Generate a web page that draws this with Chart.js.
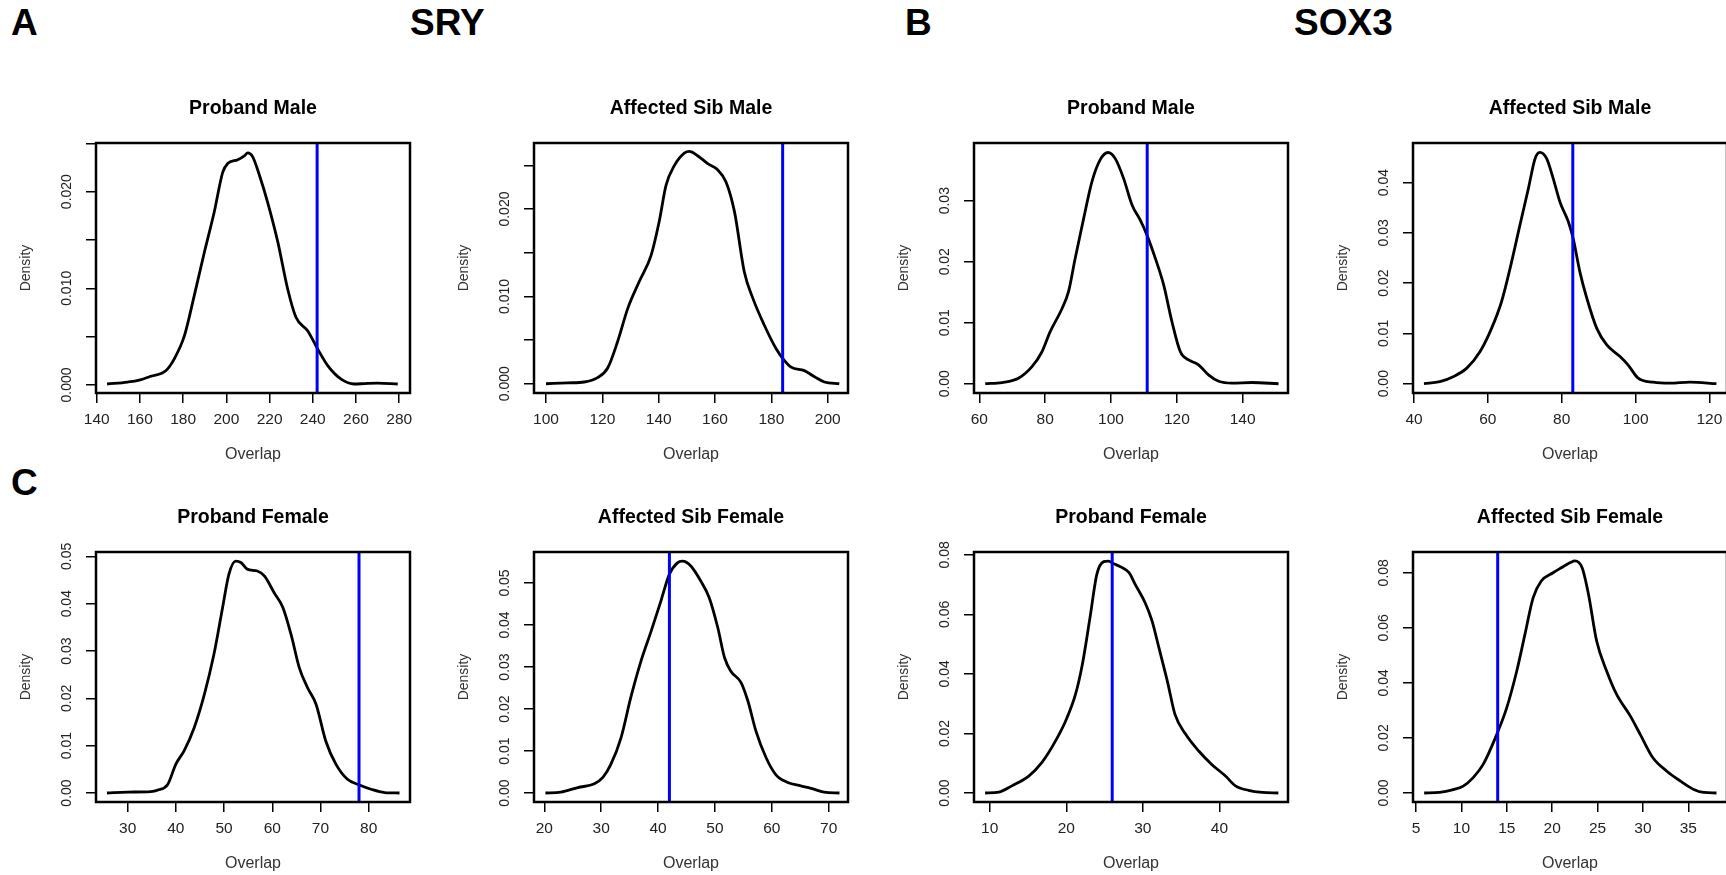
<!DOCTYPE html>
<html><head><meta charset="utf-8">
<script src="https://cdn.jsdelivr.net/npm/chart.js@4/dist/chart.umd.min.js"></script>
<style>
html,body{margin:0;padding:0;background:#fff;width:1726px;height:875px;overflow:hidden;position:relative}
canvas{position:absolute}
.lab{position:absolute;font:bold 37px 'Liberation Sans',Arial,sans-serif;line-height:37px;color:#000;white-space:nowrap}
</style></head><body>
<div class="lab" style="left:11px;top:4px">A</div>
<div class="lab" style="left:410px;top:4px">SRY</div>
<div class="lab" style="left:905px;top:4px">B</div>
<div class="lab" style="left:1294px;top:4px">SOX3</div>
<div class="lab" style="left:11px;top:464px">C</div>
<script>
// ---- data ----
const sryProbandMaleX = [144.8,154.3,159.7,165.1,172.1,175.9,180.6,185.2,189.8,194.5,198.3,200.6,205.3,208.3,209.9,212.2,215.3,219.1,223.8,228.4,232.2,237.6,242.3,246.9,253.1,259.2,263.9,270.0,279.3];
const sryProbandMaleY = [0.0001,0.0003,0.0005,0.0009,0.0015,0.0027,0.0051,0.0093,0.0137,0.0180,0.0220,0.0229,0.0233,0.0237,0.0240,0.0236,0.0217,0.0189,0.0148,0.0099,0.0070,0.0056,0.0037,0.0020,0.0006,0.0001,0.00015,0.0002,0.0001];
const sryProbandMaleObs = 242;

const srySibMaleX = [100.0,107.7,113.6,118.3,121.9,125.4,129.0,133.1,137.3,140.2,142.6,145.6,149.1,150.9,153.8,157.4,160.9,163.9,166.9,170.4,173.4,177.5,181.7,184.0,187.0,191.7,195.3,198.8,204.1];
const srySibMaleY = [0,0.0001,0.0002,0.0007,0.0018,0.0048,0.0086,0.0117,0.0147,0.0186,0.0227,0.0250,0.0264,0.0266,0.0261,0.0252,0.0245,0.0231,0.0197,0.0128,0.0098,0.0067,0.0040,0.0029,0.0019,0.0015,0.0008,0.0002,0];
const srySibMaleObs = 184;

const sox3ProbandMaleX = [61.8,66.9,71.9,76.0,79.0,81.5,85.1,87.1,89.1,91.7,94.2,96.7,99.1,101.3,103.8,106.4,108.9,110.9,113.5,116.0,118.5,121.1,123.6,126.6,129.7,132.7,136.8,142.8,150.9];
const sox3ProbandMaleY = [0,0.0002,0.0009,0.0028,0.0052,0.0085,0.0123,0.0151,0.0205,0.0271,0.0331,0.0367,0.0379,0.0369,0.0337,0.0293,0.0268,0.0244,0.0205,0.0162,0.0102,0.0052,0.0039,0.0031,0.0014,0.0004,0.0001,0.0002,0];
const sox3ProbandMaleObs = 111;

const sox3SibMaleX = [42.7,47.0,50.6,54.3,57.9,61.0,63.7,66.0,68.7,71.0,72.8,74.1,75.9,77.7,79.5,81.8,83.1,84.9,86.8,89.5,92.2,95.8,98.0,100.7,104.8,109.3,114.7,121.9];
const sox3SibMaleY = [0,0.0004,0.0014,0.0031,0.0064,0.0110,0.0163,0.0229,0.0316,0.0389,0.0448,0.0460,0.0448,0.0408,0.0362,0.0322,0.0289,0.0223,0.0170,0.0110,0.0077,0.0054,0.0037,0.0011,0.0003,0.0001,0.0003,0];
const sox3SibMaleObs = 83;

const sryProbandFemaleX = [25.7,30.0,34.8,36.2,38.3,40.0,41.7,43.8,45.9,47.9,49.7,51.0,52.4,53.5,54.8,56.9,58.4,60.4,62.2,63.9,65.6,67.3,69.1,71.1,73.2,75.6,78.1,80.5,83.3,86.4];
const sryProbandFemaleY = [0,0.0002,0.0003,0.0006,0.0018,0.0061,0.0089,0.0138,0.0208,0.0293,0.0392,0.0462,0.0490,0.0487,0.0473,0.0469,0.0458,0.0423,0.0392,0.0335,0.0265,0.0223,0.0187,0.0110,0.0061,0.0029,0.0017,0.0008,0.0001,0];
const sryProbandFemaleObs = 78;

const srySibFemaleX = [20.2,22.9,25.9,28.8,30.3,31.7,33.5,35.2,37.0,38.8,40.5,42.0,43.4,44.3,45.8,47.5,49.0,50.5,51.7,52.8,54.6,55.8,57.2,59.0,60.7,62.8,65.1,66.9,69.2,71.9];
const srySibFemaleY = [0,0.0002,0.0013,0.0022,0.0037,0.0068,0.0132,0.0227,0.0314,0.0386,0.0457,0.0521,0.0548,0.0552,0.0540,0.0505,0.0465,0.0394,0.0322,0.0290,0.0263,0.0219,0.0148,0.0084,0.0044,0.0025,0.0017,0.0011,0.0002,0];
const srySibFemaleObs = 42;

const sox3ProbandFemaleX = [9.4,11.2,12.9,15.1,16.8,18.6,20.1,21.2,22.1,23.1,24.0,24.9,25.5,26.2,27.3,28.2,29.0,30.3,31.2,32.1,33.2,34.2,35.6,37.3,39.0,40.8,42.1,43.8,45.6,47.7];
const sox3ProbandFemaleY = [0,0.0003,0.0024,0.0057,0.0102,0.0175,0.0253,0.0331,0.0432,0.0589,0.0735,0.0777,0.0779,0.0770,0.0757,0.0740,0.0701,0.0639,0.0578,0.0488,0.0376,0.0264,0.0197,0.0141,0.0096,0.0057,0.0024,0.0009,0.0002,0];
const sox3ProbandFemaleObs = 26;

const sox3SibFemaleX = [5.9,7.6,9.1,10.2,11.3,12.4,13.9,15.0,16.1,17.0,17.9,18.8,20.1,21.0,22.0,22.5,23.3,24.0,24.9,26.0,27.1,28.6,29.7,31.1,32.6,34.1,35.6,36.7,38.1];
const sox3SibFemaleY = [0,0.0002,0.0012,0.0025,0.0056,0.0104,0.0213,0.0310,0.0443,0.0576,0.0709,0.0770,0.0800,0.0818,0.0837,0.0843,0.0818,0.0722,0.0552,0.0443,0.0358,0.0280,0.0213,0.0128,0.0080,0.0044,0.0013,0.0002,0];
const sox3SibFemaleObs = 14;

// tick values and labels
const xTicksA1 = [140,160,180,200,220,240,260,280];
const xTicksA2 = [100,120,140,160,180,200];
const xTicksB1 = [60,80,100,120,140];
const xTicksB2 = [40,60,80,100,120];
const xTicksC1 = [30,40,50,60,70,80];
const xTicksC2 = [20,30,40,50,60,70];
const xTicksD1 = [10,20,30,40];
const xTicksD2 = [5,10,15,20,25,30,35];
const yTicksSryMale = [0,0.005,0.010,0.015,0.020,0.025];
const yLabelsSryMale = ['0.000','','0.010','','0.020',''];
const yTicksSox3ProbandMale = [0,0.01,0.02,0.03];
const yLabelsSox3ProbandMale = ['0.00','0.01','0.02','0.03'];
const yTicksSox3SibMale = [0,0.01,0.02,0.03,0.04];
const yLabelsSox3SibMale = ['0.00','0.01','0.02','0.03','0.04'];
const yTicksSryFemale = [0,0.01,0.02,0.03,0.04,0.05];
const yLabelsSryFemale = ['0.00','0.01','0.02','0.03','0.04','0.05'];
const yTicksSox3Female = [0,0.02,0.04,0.06,0.08];
const yLabelsSox3Female = ['0.00','0.02','0.04','0.06','0.08'];

// ---- layout ----
const W = 314, H = 250, PADL = 90, PADT = 60, PADB = 85, PADR = 20;
Chart.defaults.font.family = "'Liberation Sans', Arial, sans-serif";

const panels = [
  {title:'Proband Male', left:96, top:143, xs:sryProbandMaleX, ys:sryProbandMaleY, obs:sryProbandMaleObs, xMin:139.68, xMax:284.98, yMin:-0.00083, yMax:0.02503, xTicks:xTicksA1, yTicks:yTicksSryMale, yLabels:yLabelsSryMale},
  {title:'Affected Sib Male', left:534, top:143, xs:srySibMaleX, ys:srySibMaleY, obs:srySibMaleObs, xMin:95.74, xMax:207.2, yMin:-0.00106, yMax:0.02756, xTicks:xTicksA2, yTicks:yTicksSryMale, yLabels:yLabelsSryMale},
  {title:'Proband Male', left:974, top:143, xs:sox3ProbandMaleX, ys:sox3ProbandMaleY, obs:sox3ProbandMaleObs, xMin:58.39, xMax:153.77, yMin:-0.00152, yMax:0.03946, xTicks:xTicksB1, yTicks:yTicksSox3ProbandMale, yLabels:yLabelsSox3ProbandMale},
  {title:'Affected Sib Male', left:1413, top:143, xs:sox3SibMaleX, ys:sox3SibMaleY, obs:sox3SibMaleObs, xMin:39.73, xMax:124.76, yMin:-0.00185, yMax:0.04788, xTicks:xTicksB2, yTicks:yTicksSox3SibMale, yLabels:yLabelsSox3SibMale},
  {title:'Proband Female', left:96, top:552, xs:sryProbandFemaleX, ys:sryProbandFemaleY, obs:sryProbandFemaleObs, xMin:23.43, xMax:88.58, yMin:-0.0019, yMax:0.05092, xTicks:xTicksC1, yTicks:yTicksSryFemale, yLabels:yLabelsSryFemale},
  {title:'Affected Sib Female', left:534, top:552, xs:srySibFemaleX, ys:srySibFemaleY, obs:srySibFemaleObs, xMin:18.19, xMax:73.4, yMin:-0.00214, yMax:0.05738, xTicks:xTicksC2, yTicks:yTicksSryFemale, yLabels:yLabelsSryFemale},
  {title:'Proband Female', left:974, top:552, xs:sox3ProbandFemaleX, ys:sox3ProbandFemaleY, obs:sox3ProbandFemaleObs, xMin:7.95, xMax:48.96, yMin:-0.00302, yMax:0.08095, xTicks:xTicksD1, yTicks:yTicksSox3Female, yLabels:yLabelsSox3Female},
  {title:'Affected Sib Female', left:1413, top:552, xs:sox3SibFemaleX, ys:sox3SibFemaleY, obs:sox3SibFemaleObs, xMin:4.67, xMax:39.26, yMin:-0.00327, yMax:0.08754, xTicks:xTicksD2, yTicks:yTicksSox3Female, yLabels:yLabelsSox3Female}
];

const boxPlugin = {
  id: 'rbox',
  afterDatasetsDraw(chart) {
    const {ctx, chartArea: a} = chart;
    ctx.save();
    ctx.strokeStyle = '#000';
    ctx.lineWidth = 2.5;
    ctx.strokeRect(a.left, a.top, a.right - a.left, a.bottom - a.top);
    ctx.restore();
  }
};

const measureCtx = document.createElement('canvas').getContext('2d');
const Y_TICK_FONT = 14;
measureCtx.font = Y_TICK_FONT + "px 'Liberation Sans', Arial, sans-serif";

function makeChart(p) {
  const cv = document.createElement('canvas');
  cv.width = PADL + W + PADR;
  cv.height = PADT + H + PADB;
  cv.style.left = (p.left - PADL) + 'px';
  cv.style.top = (p.top - PADT) + 'px';
  cv.style.width = cv.width + 'px';
  cv.style.height = cv.height + 'px';
  document.body.appendChild(cv);
  const widest = Math.max(...p.yLabels.map(l => measureCtx.measureText(l).width));
  const yPad = 19 - widest / 2;
  const gridOpts = {drawOnChartArea:false, drawTicks:true, tickLength:10, color:'#000', lineWidth:1.5};
  new Chart(cv, {
    type: 'line',
    data: {
      datasets: [
        {data:[{x:p.obs, y:p.yMin}, {x:p.obs, y:p.yMax}], borderColor:'#0000ff', borderWidth:3, pointRadius:0, order:0, tension:0},
        {data:p.xs.map((v, i) => ({x:v, y:p.ys[i]})), borderColor:'#000', borderWidth:2.8, pointRadius:0, order:1, cubicInterpolationMode:'monotone'}
      ]
    },
    options: {
      responsive:false, animation:false, devicePixelRatio:1,
      layout:{padding:{left:0, right:PADR, top:0, bottom:0}, autoPadding:false},
      plugins:{
        legend:{display:false}, tooltip:{enabled:false},
        title:{display:true, text:p.title, fullSize:false, color:'#000', font:{size:19.5, weight:'bold', lineHeight:1.2}, padding:{top:14, bottom:PADT - 14 - 19.5*1.2}}
      },
      scales:{
        x:{
          type:'linear', position:'bottom', min:p.xMin, max:p.xMax,
          afterBuildTicks:s => { s.ticks = p.xTicks.map(v => ({value:v})); },
          afterFit:s => { s.height = PADB; },
          grid:gridOpts, border:{display:false},
          ticks:{color:'#222', font:{size:15.5}, padding:7, minRotation:0, maxRotation:0, autoSkip:false, callback:v => String(v)},
          title:{display:true, text:'Overlap', color:'#333', font:{size:16, lineHeight:1.2}, padding:{top:0, bottom:14}}
        },
        y:{
          type:'linear', position:'left', min:p.yMin, max:p.yMax,
          afterBuildTicks:s => { s.ticks = p.yTicks.map(v => ({value:v})); },
          afterFit:s => { s.width = PADL; },
          grid:gridOpts, border:{display:false},
          ticks:{color:'#222', font:{size:Y_TICK_FONT}, padding:yPad, minRotation:90, maxRotation:90, crossAlign:'center', autoSkip:false, callback:(v, i) => p.yLabels[i]},
          title:{display:true, text:'Density', color:'#333', font:{size:14, lineHeight:1.2}, padding:{top:11.4, bottom:0}}
        }
      }
    },
    plugins:[boxPlugin]
  });
}
panels.forEach(makeChart);
</script>
</body></html>
